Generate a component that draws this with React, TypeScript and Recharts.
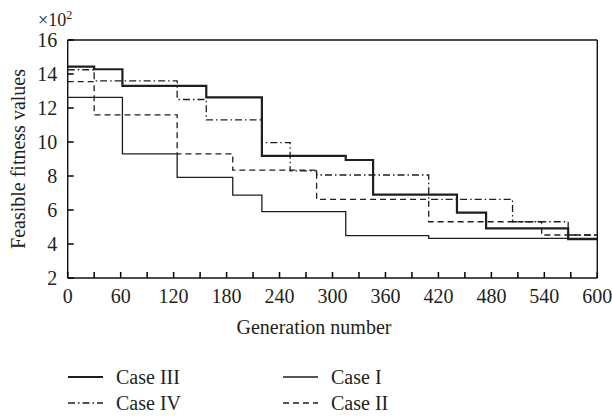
import React from "react";
import { LineChart, Line, XAxis, YAxis } from "recharts";

// step points (generation where the value changes)
const case1Gen = [0, 62, 124, 187, 220, 315, 409, 600];
const case1Val = [12.63, 9.3, 7.92, 6.88, 5.9, 4.49, 4.33, 4.33];

const case2Gen = [0, 30, 124, 187, 282, 409, 537, 600];
const case2Val = [13.55, 11.6, 9.3, 8.35, 6.63, 5.31, 4.53, 4.53];

const case3Gen = [0, 30, 62, 157, 220, 315, 346, 441, 474, 567, 600];
const case3Val = [14.43, 14.28, 13.3, 12.63, 9.18, 8.94, 6.9, 5.84, 4.92, 4.29, 4.29];

const case4Gen = [0, 30, 124, 157, 220, 252, 282, 409, 504, 567, 600];
const case4Val = [14.25, 13.6, 12.5, 11.3, 9.96, 8.3, 8.06, 6.63, 5.31, 4.53, 4.53];

const xTicks = [0, 30, 60, 90, 120, 150, 180, 210, 240, 270, 300, 330, 360, 390, 420, 450, 480, 510, 540, 570, 600];
const yTicks = [2, 4, 6, 8, 10, 12, 14, 16];

const toData = (gen: number[], val: number[]) => gen.map((g, i) => ({ gen: g, value: val[i] }));

const series = [
  { name: "Case III", data: toData(case3Gen, case3Val), width: 2.2, dash: undefined, col: 0, row: 0 },
  { name: "Case IV", data: toData(case4Gen, case4Val), width: 1.3, dash: "7 3 1.5 3", col: 0, row: 1 },
  { name: "Case I", data: toData(case1Gen, case1Val), width: 1.3, dash: undefined, col: 1, row: 0 },
  { name: "Case II", data: toData(case2Gen, case2Val), width: 1.3, dash: "6 4", col: 1, row: 1 },
];

const INK = "#231f20";
const LINE = "#1e1e1e";
const FONT = "'Liberation Serif', 'DejaVu Serif', serif";
const TICK = 6;
const axisStyle = { stroke: "#111", strokeWidth: 1.4 };

// tick marks point into the plot, drawn by hand in each tick renderer
const BottomTick = (props: any) => {
  const { x, y, payload } = props;
  const v = payload.value;
  return (
    <g>
      <line x1={x} y1={y} x2={x} y2={y - TICK} stroke="#000" strokeWidth={1.5} />
      {v % 60 === 0 && (
        <text x={x} y={y + 25} textAnchor="middle" fontSize={20} fontFamily={FONT} fill={INK}>
          {v}
        </text>
      )}
    </g>
  );
};

const TopTick = (props: any) => {
  const { x, y } = props;
  return <line x1={x} y1={y} x2={x} y2={y + TICK} stroke="#000" strokeWidth={1.5} />;
};

const LeftTick = (props: any) => {
  const { x, y, payload } = props;
  return (
    <g>
      <line x1={x} y1={y} x2={x + TICK} y2={y} stroke="#000" strokeWidth={1.5} />
      <text x={x - 10.5} y={y + 6.5} textAnchor="end" fontSize={20} fontFamily={FONT} fill={INK}>
        {payload.value}
      </text>
    </g>
  );
};

const RightTick = (props: any) => {
  const { x, y } = props;
  return <line x1={x} y1={y} x2={x - TICK} y2={y} stroke="#000" strokeWidth={1.5} />;
};

export default function App() {
  return (
    <div style={{ position: "absolute", left: 0, top: 0, background: "#fff" }}>
      <LineChart width={612} height={416} margin={{ top: 39, right: 13.7, bottom: 108, left: 7.7 }}>
        <XAxis
          xAxisId="b"
          type="number"
          dataKey="gen"
          domain={[0, 600]}
          ticks={xTicks}
          height={30}
          tickSize={0}
          tickMargin={0}
          tickLine={false}
          axisLine={axisStyle}
          tick={<BottomTick />}
          interval={0}
        />
        <XAxis
          xAxisId="t"
          orientation="top"
          type="number"
          dataKey="gen"
          domain={[0, 600]}
          ticks={xTicks}
          height={1}
          tickSize={0}
          tickMargin={0}
          tickLine={false}
          axisLine={axisStyle}
          tick={<TopTick />}
          interval={0}
        />
        <YAxis
          yAxisId="l"
          type="number"
          domain={[2, 16]}
          ticks={yTicks}
          width={60}
          tickSize={0}
          tickMargin={0}
          tickLine={false}
          axisLine={axisStyle}
          tick={<LeftTick />}
          interval={0}
        />
        <YAxis
          yAxisId="r"
          orientation="right"
          type="number"
          domain={[2, 16]}
          ticks={yTicks}
          width={1}
          tickSize={0}
          tickMargin={0}
          tickLine={false}
          axisLine={axisStyle}
          tick={<RightTick />}
          interval={0}
        />
        {series.map((s) => (
          <Line
            key={s.name}
            xAxisId="b"
            yAxisId="l"
            data={s.data}
            dataKey="value"
            type="stepAfter"
            stroke={LINE}
            strokeWidth={s.width}
            strokeDasharray={s.dash}
            dot={false}
            isAnimationActive={false}
          />
        ))}

        {/* axis titles */}
        <text x={38} y={26} fontSize={18} fontFamily={FONT} fill={INK}>
          ×10<tspan fontSize={12} dy={-7}>2</tspan>
        </text>
        <text
          x={25}
          y={159}
          transform="rotate(-90 25 159)"
          textAnchor="middle"
          fontSize={20}
          fontFamily={FONT}
          fill={INK}
        >
          Feasible fitness values
        </text>
        <text x={314} y={334} textAnchor="middle" fontSize={20} fontFamily={FONT} fill={INK}>
          Generation number
        </text>

        {/* legend */}
        {series.map((s) => {
          const lx = s.col === 0 ? 68 : 283;
          const ly = s.row === 0 ? 377 : 403;
          return (
            <g key={"lg-" + s.name}>
              <line
                x1={lx}
                y1={ly}
                x2={lx + 35}
                y2={ly}
                stroke={LINE}
                strokeWidth={s.width}
                strokeDasharray={s.dash}
              />
              <text x={lx + 48} y={ly + 7} fontSize={20} fontFamily={FONT} fill={INK}>
                {s.name}
              </text>
            </g>
          );
        })}
      </LineChart>
    </div>
  );
}
